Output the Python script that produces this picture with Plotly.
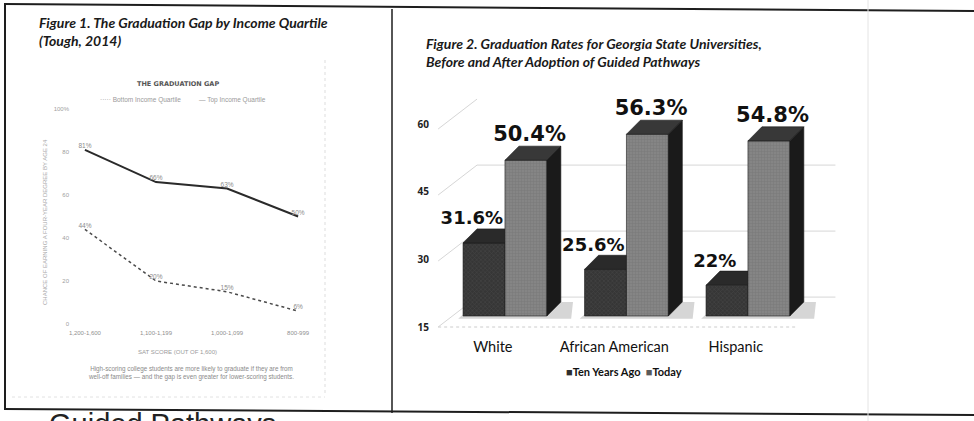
import plotly.graph_objects as go

W, H = 974, 421
def px(x):
    return x / W
def py(y):
    return 1 - y / H

# ---------------- Figure 1 data (Tough, 2014) ----------------
sat_bands = ["1,200-1,600", "1,100-1,199", "1,000-1,099", "800-999"]
top_quartile = [81, 66, 63, 50]
bottom_quartile = [44, 20, 15, 6]
f1_yticks = [0, 20, 40, 60, 80, 100]
f1_yticktext = ["0", "20", "40", "60", "80", "100%"]

# ---------------- Figure 2 data (Georgia State) ----------------
groups = ["White", "African American", "Hispanic"]
ten_years_ago = [31.6, 25.6, 22.0]
today = [50.4, 56.3, 54.8]
f2_yticks = [15, 30, 45, 60]

SANS = "Lato, Open Sans, sans-serif"
GRAY_TXT = "#9a9a9a"

fig = go.Figure()

# ================= Figure 1: line chart =================
xi = list(range(len(sat_bands)))
fig.add_trace(go.Scatter(
    x=xi, y=top_quartile, mode="lines+text",
    text=[f"{v}%" for v in top_quartile], textposition="top center",
    textfont=dict(size=6.5, color="#8a8a8a", family="Liberation Sans"),
    line=dict(color="#2a2a2a", width=2), xaxis="x", yaxis="y",
    hoverinfo="skip", cliponaxis=False))
fig.add_trace(go.Scatter(
    x=xi, y=bottom_quartile, mode="lines+text",
    text=[f"{v}%" for v in bottom_quartile], textposition="top center",
    textfont=dict(size=6.5, color="#8a8a8a", family="Liberation Sans"),
    line=dict(color="#4a4a4a", width=1.5, dash="dot"), xaxis="x", yaxis="y",
    hoverinfo="skip", cliponaxis=False))

# ================= Figure 2: pseudo-3D bars =================
BASE = 15
BAR_W = 0.345
DX = 0.115
DY = 3.2
FRONT_DROP = 2.5
BACK_RISE = 4.3
WALL_FRONT_X, WALL_BACK_X, WALL_RIGHT_X = -0.55, -0.23, 2.72
FLOOR_RIGHT_X = 2.39

# back wall gridlines
gx, gy = [], []
for L in f2_yticks:
    if L == max(f2_yticks):
        gx += [WALL_FRONT_X, WALL_BACK_X, None]
        gy += [L - FRONT_DROP, L + BACK_RISE, None]
    else:
        gx += [WALL_FRONT_X, WALL_BACK_X, WALL_RIGHT_X, None]
        gy += [L - FRONT_DROP, L + BACK_RISE, L + BACK_RISE, None]
fig.add_trace(go.Scatter(x=gx, y=gy, mode="lines", line=dict(color="#d6d6d6", width=1),
                         xaxis="x2", yaxis="y2", hoverinfo="skip"))
# floor front edge
fig.add_trace(go.Scatter(x=[WALL_FRONT_X, FLOOR_RIGHT_X], y=[BASE - FRONT_DROP] * 2, mode="lines",
                         line=dict(color="#cccccc", width=1, dash="dot"),
                         xaxis="x2", yaxis="y2", hoverinfo="skip"))

def polys(builder, values):
    xs, ys = [], []
    for c, v in enumerate(values):
        px_, py_ = builder(c, v)
        xs += px_ + [px_[0], None]
        ys += py_ + [py_[0], None]
    return xs, ys

def shadow(c, v):
    return ([c - BAR_W - 0.04, c + BAR_W + 0.2, c + BAR_W + DX + 0.1, c - BAR_W + DX],
            [BASE - 0.6, BASE - 0.6, BASE + DY, BASE + DY])

def front(off):
    def f(c, v):
        x0, x1 = c + off, c + off + BAR_W
        return [x0, x1, x1, x0], [BASE, BASE, v, v]
    return f

def top(off):
    def f(c, v):
        x0, x1 = c + off, c + off + BAR_W
        return [x0, x1, x1 + DX, x0 + DX], [v, v, v + DY, v + DY]
    return f

def side(off):
    def f(c, v):
        x1 = c + off + BAR_W
        return [x1, x1 + DX, x1 + DX, x1], [BASE, BASE + DY, v + DY, v]
    return f

def add_poly(builder, values, color, pattern=None):
    xs, ys = polys(builder, values)
    kw = {}
    if pattern:
        kw["fillpattern"] = pattern
    fig.add_trace(go.Scatter(x=xs, y=ys, mode="lines", fill="toself", fillcolor=color,
                             line=dict(width=0.6, color="#1a1a1a"), xaxis="x2", yaxis="y2",
                             hoverinfo="skip", **kw))

sx, sy = polys(shadow, today)
fig.add_trace(go.Scatter(x=sx, y=sy, mode="lines", fill="toself", fillcolor="#d6d6d6",
                         line=dict(width=0), xaxis="x2", yaxis="y2", hoverinfo="skip"))

TEN_C, TODAY_C = "#363636", "#858585"
add_poly(side(-BAR_W), ten_years_ago, "#1c1c1c")
add_poly(front(-BAR_W), ten_years_ago, TEN_C,
         dict(shape="x", size=3, solidity=0.3, fgcolor="#555555"))
add_poly(top(-BAR_W), ten_years_ago, "#2a2a2a")
add_poly(front(0), today, TODAY_C,
         dict(shape="+", size=3, solidity=0.3, fgcolor="#6a6a6a"))
add_poly(top(0), today, "#383838")
add_poly(side(0), today, "#1a1a1a")

cats = list(range(len(groups)))
fig.add_trace(go.Scatter(
    x=[c - BAR_W / 2 - 0.1 for c in cats], y=[v + DY for v in ten_years_ago],
    mode="text", text=[f"{v:g}%" for v in ten_years_ago], textposition="top center",
    textfont=dict(size=18, color="#111111", family="DejaVu Sans", weight="bold"),
    xaxis="x2", yaxis="y2", hoverinfo="skip", cliponaxis=False))
fig.add_trace(go.Scatter(
    x=[c + BAR_W / 2 + 0.03 for c in cats], y=[v + DY for v in today],
    mode="text", text=[f"{v:g}%" for v in today], textposition="top center",
    textfont=dict(size=21, color="#111111", family="DejaVu Sans", weight="bold"),
    xaxis="x2", yaxis="y2", hoverinfo="skip", cliponaxis=False))
# carrier for the tick-label axis
fig.add_trace(go.Scatter(x=[WALL_FRONT_X] * len(f2_yticks), y=f2_yticks, mode="markers",
                         marker=dict(opacity=0), xaxis="x2", yaxis="y3", hoverinfo="skip"))

# ================= Layout =================
PPU = 4.4     # px per unit on bar plane
PPU_T = 4.511 # px per unit on tick plane
dom_top, dom_bot = 90, 336
fig.update_layout(
    width=W, height=H, margin=dict(l=0, r=0, t=0, b=0), showlegend=False,
    paper_bgcolor="white", plot_bgcolor="rgba(0,0,0,0)",
    xaxis=dict(domain=[px(70), px(323)], range=[-0.21, 3.35], anchor="y", automargin=False,
               tickvals=xi, ticktext=sat_bands, ticks="", showgrid=False, zeroline=False,
               showline=False, tickfont=dict(size=6, color="#8f8f8f", family="Liberation Sans"),
               ticklabelstandoff=4),
    yaxis=dict(domain=[py(324), py(109)], range=[0, 100], anchor="x", automargin=False,
               tickvals=f1_yticks, ticktext=f1_yticktext, ticks="", showgrid=False,
               zeroline=False, showline=False,
               tickfont=dict(size=6, color="#a0a0a0", family="Liberation Sans")),
    xaxis2=dict(domain=[px(430), px(850)], range=[-0.617, 2.84], anchor="y2", automargin=False,
                tickvals=[c - 0.1 for c in cats], ticktext=groups, ticks="", showgrid=False,
                zeroline=False, showline=False, ticklabelstandoff=0,
                tickfont=dict(size=14.5, color="#111111", family=SANS)),
    yaxis2=dict(domain=[py(dom_bot), py(dom_top)], automargin=False,
                range=[BASE - (dom_bot - 316) / PPU, BASE + (316 - dom_top) / PPU],
                anchor="x2", visible=False),
    yaxis3=dict(overlaying="y2", anchor="x2", side="left", automargin=False,
                range=[BASE - (dom_bot - 327) / PPU_T, BASE + (327 - dom_top) / PPU_T],
                tickvals=f2_yticks, ticks="", showgrid=False, zeroline=False, showline=False,
                tickfont=dict(size=10, color="#222222", family="Open Sans", weight="bold")),
)

ann = []
def A(text, x, y, size, color="#111", family=SANS, xanchor="center", yanchor="middle",
      align="center", style="normal", weight="normal", angle=0):
    ann.append(dict(text=text, x=px(x), y=py(y), xref="paper", yref="paper", showarrow=False,
                    xanchor=xanchor, yanchor=yanchor, align=align, textangle=angle,
                    font=dict(size=size, color=color, family=family, style=style, weight=weight)))

A("Figure 1. The Graduation Gap by Income Quartile<br>(Tough, 2014)", 37, 12, 14,
  color="#1a1a1a", xanchor="left", yanchor="top", align="left", style="italic", weight="bold")
A("Figure 2. Graduation Rates for Georgia State Universities,<br>Before and After Adoption of Guided Pathways",
  424, 33, 14, color="#1a1a1a", xanchor="left", yanchor="top", align="left", style="italic", weight="bold")
A("THE GRADUATION GAP", 178, 84, 6.5, color="#555555", family="DejaVu Sans", weight="bold")
A("····· Bottom Income Quartile", 140, 100, 6.5, color=GRAY_TXT, family="Liberation Sans")
A("— Top Income Quartile", 232, 100, 6.5, color=GRAY_TXT, family="Liberation Sans")
A("CHANCE OF EARNING A FOUR-YEAR DEGREE BY AGE 24", 45, 222, 6, color="#a8a8a8",
  family="Liberation Sans", angle=-90)
A("SAT SCORE (OUT OF 1,600)", 177, 352, 6, color=GRAY_TXT, family="Liberation Sans")
A("High-scoring college students are more likely to graduate if they are from<br>"
  "well-off families — and the gap is even greater for lower-scoring students.",
  191, 373, 6.3, color="#8a8a8a", family="Liberation Sans")
A("<span style='color:#2e2e2e'>■</span>Ten Years Ago  <span style='color:#5a5a5a'>■</span>Today",
  624, 371, 11, color="#111111", weight="bold")
A("Guided Pathways", 47, 406, 29, color="#222222", family="Liberation Sans",
  xanchor="left", yanchor="top", align="left")
fig.update_layout(annotations=ann)

shapes = []
def L(x0, y0, x1, y1, color="#1e1e1e", width=2, dash="solid"):
    shapes.append(dict(type="line", xref="paper", yref="paper", x0=px(x0), y0=py(y0),
                       x1=px(x1), y1=py(y1), line=dict(color=color, width=width, dash=dash)))
L(4, 4, 974, 11)
L(4, 409, 974, 415)
L(5, 4, 5, 409)
L(392, 9, 392, 413, width=1.5)
L(325, 60, 325, 396, color="#dddddd", width=1, dash="dot")
L(12, 397, 325, 397, color="#e2e2e2", width=1, dash="dot")
L(868, 0, 868, 421, color="#e4e4e4", width=1)
fig.update_layout(shapes=shapes)

fig.write_html("out.html", config={"displayModeBar": False},
               post_script="document.body.style.margin='0';document.body.style.overflow='hidden';")
